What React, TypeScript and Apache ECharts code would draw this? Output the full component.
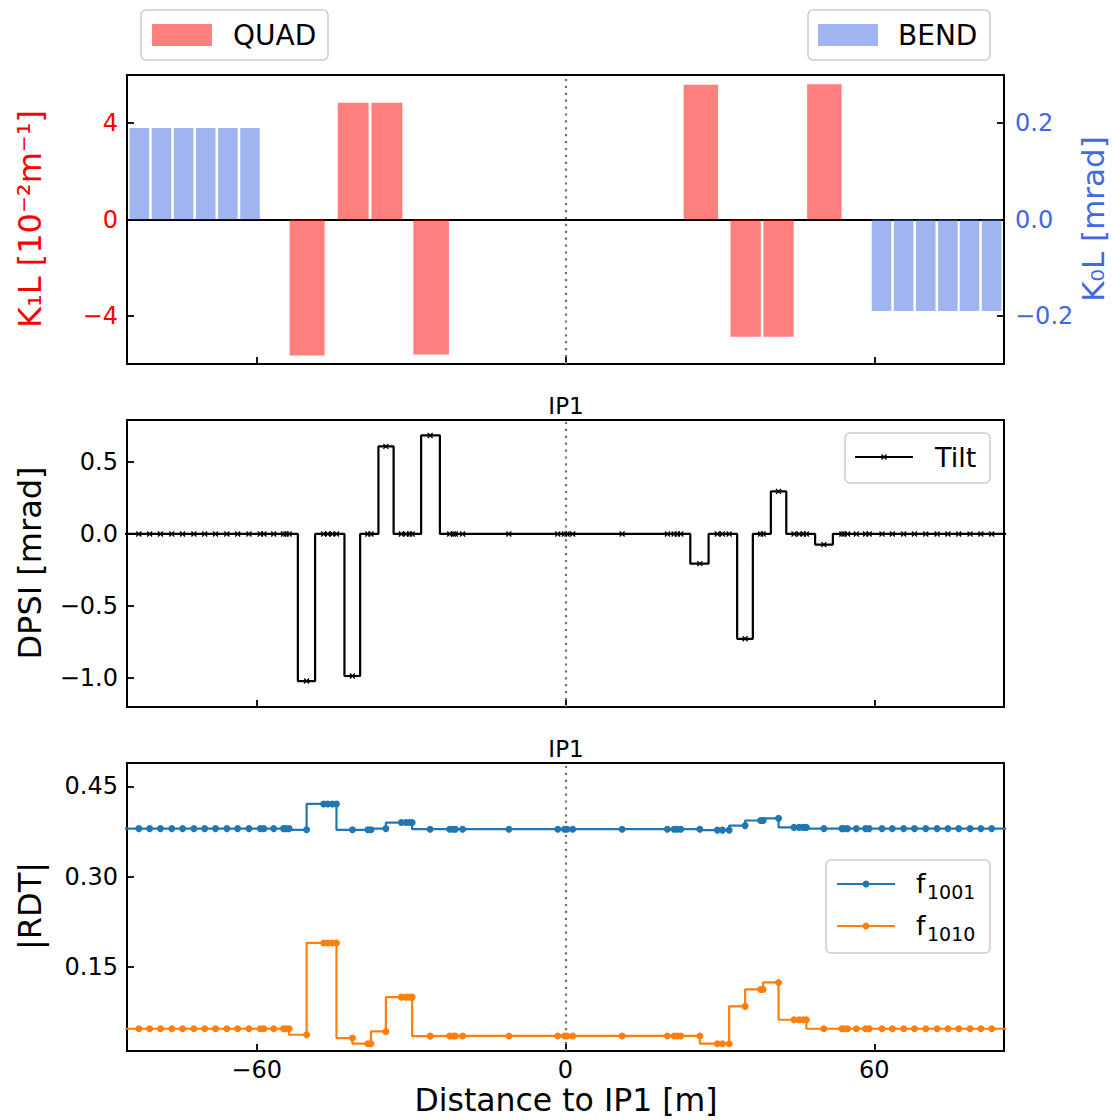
import React, { useEffect, useRef } from "react";
import * as echarts from "echarts";

// ---------- data ----------
const X_RANGE = [-85.2, 85.2];
const X_TICKS = [-60, 0, 60];
const IP_S = 0;

const QUAD_S = [-50.2, -41.25, -34.7, -26.1, 26.3, 35.0, 41.4, 50.3];
const QUAD_W = [6.8, 6.0, 6.0, 6.9, 6.7, 5.9, 5.9, 6.7];
const QUAD_K1L = [-5.65, 4.85, 4.85, -5.61, 5.59, -4.87, -4.87, 5.62];

const BEND_S = [-82.8, -78.5, -74.2, -69.9, -65.6, -61.3, 61.4, 65.7, 70.0, 74.3, 78.5, 82.8];
const BEND_W = [3.8, 3.8, 3.8, 3.8, 3.8, 3.8, 3.8, 3.8, 3.8, 3.8, 3.8, 3.8];
const BEND_K0L = [0.19, 0.19, 0.19, 0.19, 0.19, 0.19, -0.19, -0.19, -0.19, -0.19, -0.19, -0.19];

const ELEM_S = [
  -87.0,
  -82.9, -80.8, -78.7, -76.5, -74.4, -72.2, -70.1, -68.0, -65.8, -63.7, -61.5,
  -59.3, -58.6, -56.7, -54.8, -54.3, -53.7,
  -50.3,
  -47.0, -46.2, -45.3, -44.5,
  -41.4,
  -38.4, -37.8,
  -34.9,
  -31.9, -31.0, -30.3, -29.8,
  -26.3,
  -22.5, -21.8, -21.4, -20.0, -11.0, -1.5, -0.2, 0.3, 1.4, 11.0, 19.8, 21.1, 21.7, 22.4,
  26.1,
  29.5, 30.5, 31.8,
  34.9,
  37.9, 38.4,
  41.4,
  44.4, 45.4, 46.2, 46.8,
  50.2,
  53.7, 54.1, 54.8, 56.5, 58.3, 59.0,
  61.5, 63.5, 65.7, 67.8, 70.0, 72.2, 74.3, 76.4, 78.6, 80.7, 82.8,
  87.0,
];

const TILT = [
  0,
  0, 0, 0, 0, 0, 0, 0, 0, 0, 0, 0,
  0, 0, 0, 0, 0, 0,
  -1.02,
  0, 0, 0, 0,
  -0.985,
  0, 0,
  0.607,
  0, 0, 0, 0,
  0.683,
  0, 0, 0, 0, 0, 0, 0, 0, 0, 0, 0, 0, 0, 0,
  -0.206,
  0, 0, 0,
  -0.727,
  0, 0,
  0.295,
  0, 0, 0, 0,
  -0.074,
  0, 0, 0, 0, 0, 0,
  0, 0, 0, 0, 0, 0, 0, 0, 0, 0, 0,
  0,
];

const F1001 = [
  0.38,
  0.38, 0.38, 0.38, 0.38, 0.38, 0.38, 0.38, 0.38, 0.38, 0.38, 0.38,
  0.38, 0.38, 0.38, 0.38, 0.38, 0.38,
  0.378,
  0.421, 0.421, 0.421, 0.421,
  0.378,
  0.378, 0.378,
  0.38,
  0.39, 0.39, 0.39, 0.39,
  0.379,
  0.379, 0.379, 0.379, 0.379, 0.379, 0.379, 0.379, 0.379, 0.379, 0.379, 0.379, 0.379, 0.379, 0.379,
  0.379,
  0.3775, 0.3775, 0.3775,
  0.385,
  0.3935, 0.3935,
  0.397,
  0.382, 0.382, 0.382, 0.382,
  0.38,
  0.38, 0.38, 0.38, 0.38, 0.38, 0.38,
  0.38, 0.38, 0.38, 0.38, 0.38, 0.38, 0.38, 0.38, 0.38, 0.38, 0.38,
  0.38,
];

const F1010 = [
  0.0475,
  0.0475, 0.0475, 0.0475, 0.0475, 0.0475, 0.0475, 0.0475, 0.0475, 0.0475, 0.0475, 0.0475,
  0.0475, 0.0475, 0.0475, 0.0475, 0.0475, 0.0475,
  0.0375,
  0.19, 0.19, 0.19, 0.19,
  0.032,
  0.0226, 0.0226,
  0.043,
  0.1, 0.1, 0.1, 0.1,
  0.0352,
  0.0355, 0.0355, 0.0355, 0.0355, 0.0355, 0.0355, 0.0355, 0.0355, 0.0355, 0.0355, 0.0355, 0.0355, 0.0355, 0.0355,
  0.0355,
  0.0226, 0.0226, 0.0226,
  0.0846,
  0.1128, 0.1128,
  0.1244,
  0.0624, 0.0624, 0.0624, 0.0624,
  0.0475,
  0.0475, 0.0475, 0.0475, 0.0475, 0.0475, 0.0475,
  0.0475, 0.0475, 0.0475, 0.0475, 0.0475, 0.0475, 0.0475, 0.0475, 0.0475, 0.0475, 0.0475,
  0.0475,
];

const K1L_RANGE = [-6, 6];
const K1L_TICKS = [-4, 0, 4];
const K0L_RANGE = [-0.3, 0.3];
const K0L_TICKS = [-0.2, 0, 0.2];
const DPSI_RANGE = [-1.2, 0.79];
const DPSI_TICKS = [-1, -0.5, 0, 0.5];
const RDT_RANGE = [0.0105, 0.489];
const RDT_TICKS = [0.15, 0.3, 0.45];

// ---------- styling ----------
const FONT = "DejaVu Sans";
const TICK_FS = 24;
const LABEL_FS = 32;
const LEG_FS = 27;
const SUB_FS = 19;
const QUAD_COLOR = "rgba(255,0,0,0.5)";
const BEND_COLOR = "rgba(65,105,225,0.5)";
const ROYAL = "#4169e1";
const C_BLUE = "#1f77b4";
const C_ORANGE = "#ff7f0e";

const fmt = (d: number) => (v: number) =>
  (v < -1e-9 ? "\u2212" : "") + Math.abs(v).toFixed(d);

const GRIDS = [
  { left: 127, top: 75, width: 877, height: 289 },
  { left: 127, top: 420, width: 877, height: 287 },
  { left: 127, top: 763, width: 877, height: 288 },
];

const tickStyle = { color: "#000", width: 1.8 };

function makeYAxis(gridIndex: number, range: number[], ticks: number[], dec: number, color: string, position: string, margin: number) {
  return {
    type: "value",
    gridIndex,
    position,
    min: range[0],
    max: range[1],
    axisLine: { show: false, onZero: false },
    axisTick: { show: true, inside: true, length: 7, lineStyle: tickStyle, customValues: ticks },
    axisLabel: {
      show: true,
      customValues: ticks,
      formatter: fmt(dec),
      fontSize: TICK_FS,
      fontFamily: FONT,
      color,
      margin,
    },
    splitLine: { show: false },
  };
}

const barRender = (color: string) => (params: any, api: any) => {
  const s = api.value(0);
  const w = api.value(1);
  const v = api.value(2);
  const p0 = api.coord([s - w / 2, 0]);
  const p1 = api.coord([s + w / 2, v]);
  return {
    type: "rect",
    shape: {
      x: Math.min(p0[0], p1[0]),
      y: Math.min(p0[1], p1[1]),
      width: Math.abs(p1[0] - p0[0]),
      height: Math.abs(p1[1] - p0[1]),
    },
    style: { fill: color },
  };
};

const ipLine = {
  xAxis: IP_S,
  lineStyle: { color: "#707070", width: 2.2, type: [2.2, 4.7] },
};

function buildOption() {
  const xAxes = [0, 1, 2].map((i) => ({
    type: "value",
    gridIndex: i,
    min: X_RANGE[0],
    max: X_RANGE[1],
    axisLine: { show: false, onZero: false },
    axisTick: { show: true, inside: true, length: 7, lineStyle: tickStyle, customValues: X_TICKS },
    axisLabel: {
      show: i === 2,
      customValues: X_TICKS,
      formatter: fmt(0),
      fontSize: TICK_FS,
      fontFamily: FONT,
      color: "#000",
      margin: 7,
    },
    splitLine: { show: false },
  }));

  const yAxes = [
    makeYAxis(0, K1L_RANGE, K1L_TICKS, 0, "#ff0000", "left", 9),
    makeYAxis(0, K0L_RANGE, K0L_TICKS, 1, ROYAL, "right", 11),
    makeYAxis(1, DPSI_RANGE, DPSI_TICKS, 1, "#000", "left", 9),
    makeYAxis(2, RDT_RANGE, RDT_TICKS, 2, "#000", "left", 9),
  ];

  const markCommon = {
    silent: true,
    symbol: ["none", "none"],
    label: { show: false },
    emphasis: { disabled: true },
    z: 1,
  };

  const series: any[] = [
    {
      type: "custom",
      name: "QUAD",
      xAxisIndex: 0,
      yAxisIndex: 0,
      z: 3,
      clip: true,
      renderItem: barRender(QUAD_COLOR),
      encode: { x: 0, y: 2 },
      data: QUAD_S.map((s, i) => [s, QUAD_W[i], QUAD_K1L[i]]),
      markLine: {
        ...markCommon,
        data: [
          { yAxis: 0, lineStyle: { color: "#000", width: 2, type: "solid" } },
          ipLine,
        ],
      },
    },
    {
      type: "custom",
      name: "BEND",
      xAxisIndex: 0,
      yAxisIndex: 1,
      z: 3,
      clip: true,
      renderItem: barRender(BEND_COLOR),
      encode: { x: 0, y: 2 },
      data: BEND_S.map((s, i) => [s, BEND_W[i], BEND_K0L[i]]),
    },
    {
      type: "line",
      name: "Tilt",
      xAxisIndex: 1,
      yAxisIndex: 2,
      step: "middle",
      clip: true,
      showAllSymbol: true,
      symbol: "path://M0,0L10,10M10,0L0,10",
      symbolSize: 5,
      itemStyle: { color: "#000", borderColor: "#000", borderWidth: 1.3 },
      lineStyle: { color: "#000", width: 2.2 },
      data: ELEM_S.map((s, i) => [s, TILT[i]]),
      markLine: { ...markCommon, data: [ipLine] },
    },
    {
      type: "line",
      name: "f1001",
      xAxisIndex: 2,
      yAxisIndex: 3,
      step: "start",
      clip: true,
      showAllSymbol: true,
      symbol: "circle",
      symbolSize: 7,
      itemStyle: { color: C_BLUE, borderWidth: 0 },
      lineStyle: { color: C_BLUE, width: 2.2 },
      data: ELEM_S.map((s, i) => [s, F1001[i]]),
      markLine: { ...markCommon, data: [ipLine] },
    },
    {
      type: "line",
      name: "f1010",
      xAxisIndex: 2,
      yAxisIndex: 3,
      step: "start",
      clip: true,
      showAllSymbol: true,
      symbol: "circle",
      symbolSize: 7,
      itemStyle: { color: C_ORANGE, borderWidth: 0 },
      lineStyle: { color: C_ORANGE, width: 2.2 },
      data: ELEM_S.map((s, i) => [s, F1010[i]]),
    },
  ];

  const txt = (text: string, x: number, y: number, opts: any = {}) => ({
    type: "text",
    x,
    y,
    rotation: opts.rotation || 0,
    z: 10,
    style: {
      text,
      x: 0,
      y: 0,
      fill: opts.color || "#000",
      font: `${opts.size || LABEL_FS}px "${FONT}"`,
      align: opts.align || "center",
      verticalAlign: "middle",
    },
  });

  const frame = (x: number, y: number, w: number, h: number) => ({
    type: "rect",
    z: 9,
    shape: { x, y, width: w, height: h, r: 5 },
    style: { fill: "rgba(255,255,255,0.85)", stroke: "#cccccc", lineWidth: 1.5 },
  });

  const graphics: any[] = [
    // axis labels
    txt("K\u2081L [10\u207B\u00B2m\u207B\u00B9]", 30, 219, { rotation: Math.PI / 2, color: "#ff0000" }),
    txt("K\u2080L [mrad]", 1093, 219, { rotation: Math.PI / 2, color: ROYAL, size: 31 }),
    txt("DPSI [mrad]", 30, 563, { rotation: Math.PI / 2 }),
    txt("|RDT|", 30, 906, { rotation: Math.PI / 2 }),
    txt("Distance to IP1 [m]", 566, 1100, { size: 31.5 }),
    // titles
    txt("IP1", 566, 406, { size: 23 }),
    txt("IP1", 566, 749, { size: 23 }),
    // QUAD legend
    frame(141, 10, 187, 50),
    { type: "rect", z: 10, shape: { x: 152, y: 24, width: 60, height: 22 }, style: { fill: QUAD_COLOR } },
    txt("QUAD", 233, 35, { size: 28, align: "left" }),
    // BEND legend
    frame(808, 10, 182, 50),
    { type: "rect", z: 10, shape: { x: 818, y: 24, width: 60, height: 22 }, style: { fill: BEND_COLOR } },
    txt("BEND", 898, 35, { size: 28, align: "left" }),
    // Tilt legend
    frame(845, 433, 145, 50),
    { type: "line", z: 10, shape: { x1: 855, y1: 457, x2: 913, y2: 457 }, style: { stroke: "#000", lineWidth: 2 } },
    { type: "line", z: 10, shape: { x1: 881.5, y1: 454.5, x2: 886.5, y2: 459.5 }, style: { stroke: "#000", lineWidth: 1.3 } },
    { type: "line", z: 10, shape: { x1: 886.5, y1: 454.5, x2: 881.5, y2: 459.5 }, style: { stroke: "#000", lineWidth: 1.3 } },
    txt("Tilt", 935, 457, { size: LEG_FS, align: "left" }),
    // RDT legend
    frame(826, 860, 164, 93),
    { type: "line", z: 10, shape: { x1: 837, y1: 884, x2: 895, y2: 884 }, style: { stroke: C_BLUE, lineWidth: 2 } },
    { type: "circle", z: 10, shape: { cx: 866, cy: 884, r: 3.5 }, style: { fill: C_BLUE } },
    txt("f", 916, 883, { size: LEG_FS, align: "left" }),
    txt("1001", 927, 892, { size: SUB_FS, align: "left" }),
    { type: "line", z: 10, shape: { x1: 837, y1: 926, x2: 895, y2: 926 }, style: { stroke: C_ORANGE, lineWidth: 2 } },
    { type: "circle", z: 10, shape: { cx: 866, cy: 926, r: 3.5 }, style: { fill: C_ORANGE } },
    txt("f", 916, 925, { size: LEG_FS, align: "left" }),
    txt("1010", 927, 934, { size: SUB_FS, align: "left" }),
  ];

  return {
    animation: false,
    backgroundColor: "#ffffff",
    textStyle: { fontFamily: FONT },
    grid: GRIDS.map((g) => ({
      ...g,
      show: true,
      borderColor: "#000",
      borderWidth: 2,
      backgroundColor: "transparent",
      containLabel: false,
    })),
    xAxis: xAxes,
    yAxis: yAxes,
    series,
    graphic: { elements: graphics },
  };
}

export default function App() {
  const ref = useRef<HTMLDivElement>(null);
  useEffect(() => {
    if (!ref.current) return;
    const chart = echarts.init(ref.current, undefined, { renderer: "svg" });
    chart.setOption(buildOption() as any);
    return () => chart.dispose();
  }, []);
  return (
    <div
      ref={ref}
      style={{ position: "absolute", left: 0, top: 0, width: 1112, height: 1120, background: "#fff" }}
    />
  );
}
